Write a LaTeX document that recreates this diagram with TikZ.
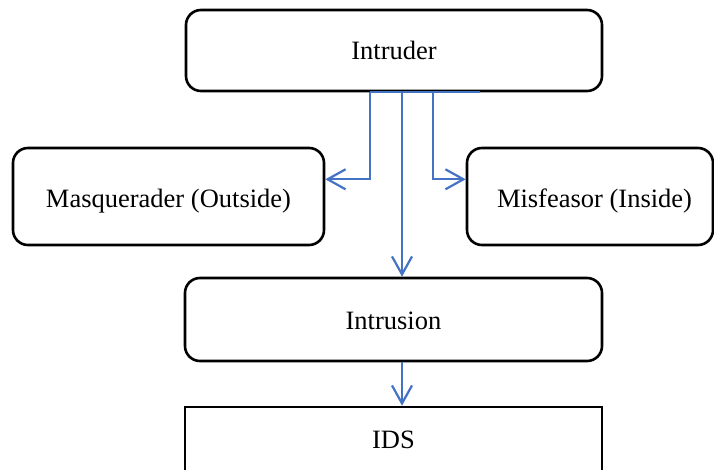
\documentclass[tikz,border=0pt]{standalone}
\usepackage{fontspec}
\setmainfont{Liberation Serif}
\usetikzlibrary{arrows.meta,calc}
\definecolor{linkblue}{RGB}{68,114,196}
\tikzset{
  box/.style={draw=black, line width=2.6pt, fill=white, inner sep=0pt,
    text depth=0pt, font=\fontsize{26.5}{30}\selectfont},
  roundbox/.style={box, rounded corners=15pt},
  link/.style={draw=linkblue, line width=2.2pt},
  linkarrow/.style={link, -{Straight Barb[length=18pt,width=20pt,line width=2.2pt]}}
}
\begin{document}
\begin{tikzpicture}[x=1pt,y=-1pt]
  \clip (0,0) rectangle (714,470);
  \useasboundingbox (0,0) rectangle (714,470);

  \node[roundbox, minimum width=416pt, minimum height=81pt, text height=19pt] (intruder) at (394,50.5) {Intruder};
  \node[roundbox, minimum width=311pt, minimum height=97pt, text height=22pt] (masq) at (168.5,196.5) {Masquerader (Outside)};
  \node[roundbox, minimum width=246pt, minimum height=97pt, text height=22pt] (misf) at (590,196.5) {\hspace*{9pt}Misfeasor (Inside)};
  \node[roundbox, minimum width=417pt, minimum height=83pt, text height=20pt] (intrusion) at (393.5,319.5) {Intrusion};
  \node[box, minimum width=417pt, minimum height=64pt, text height=19pt] (ids) at (393.5,439) {IDS};

  % branch points along the bottom edge of the intruder box
  \coordinate (bl) at ($(intruder.south)+(-24,0)$);
  \coordinate (bm) at ($(intruder.south)+(8,0)$);
  \coordinate (br) at ($(intruder.south)+(39,0)$);
  \coordinate (bend) at ($(intruder.south)+(86,0)$);
  \coordinate (lturn) at ($(bl)+(0,87)$);
  \coordinate (rturn) at ($(br)+(0,87)$);

  \draw[link] (bl) -- (bend);
  \draw[linkarrow] (bl) -- (lturn) -- (lturn -| masq.east);
  \draw[linkarrow] (br) -- (rturn) -- (rturn -| misf.west);
  \draw[linkarrow] (bm) -- (bm |- intrusion.north);
  \draw[linkarrow] (intrusion.south -| bm) -- (ids.north -| bm);
\end{tikzpicture}
\end{document}
